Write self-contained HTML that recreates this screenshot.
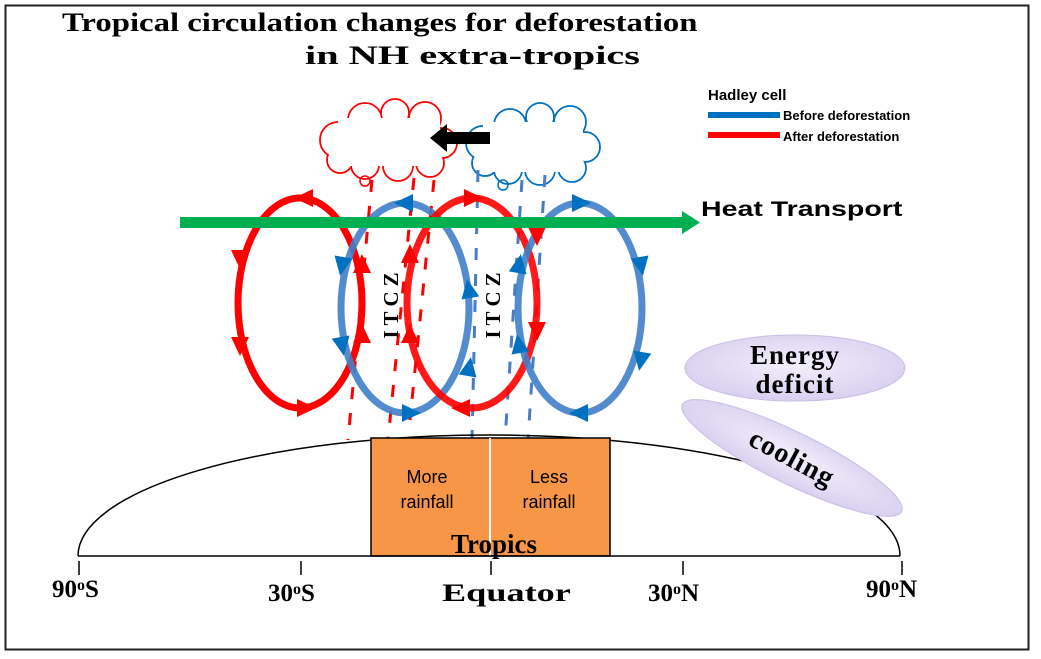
<!DOCTYPE html>
<html><head><meta charset="utf-8"><style>
html,body{margin:0;padding:0;background:#fff;}
svg{display:block;}
.t{font-family:"Liberation Serif",serif;font-weight:bold;}
.s{font-family:"Liberation Sans",sans-serif;}
</style></head><body>
<svg width="1041" height="659" viewBox="0 0 1041 659" xmlns="http://www.w3.org/2000/svg">
<defs>
<radialGradient id="lav" cx="50%" cy="45%" r="60%"><stop offset="0" stop-color="#f3effb"/><stop offset="1" stop-color="#d6cdef"/></radialGradient>
<g id="ah"><polygon points="11,0 -8,-9 -8,9"/></g>
</defs>
<rect x="5.5" y="5.5" width="1023" height="644" fill="#fff" stroke="#222" stroke-width="2"/>
<text class="t" font-size="26" transform="translate(62,31) scale(1.26,1)">Tropical circulation changes for deforestation</text>
<text class="t" font-size="26" transform="translate(305,64) scale(1.55,1)">in NH extra-tropics</text>
<!-- legend -->
<text class="s" x="708" y="100" font-size="15" font-weight="bold">Hadley cell</text>
<rect x="708" y="112" width="72" height="6" fill="#0070c0"/>
<text class="s" x="783" y="120" font-size="13" font-weight="bold">Before deforestation</text>
<rect x="708" y="132" width="72" height="6" fill="#ff0000"/>
<text class="s" x="783" y="141" font-size="13" font-weight="bold">After deforestation</text>
<!-- clouds -->
<g stroke="#ff0000" stroke-width="1.8" fill="#fff">
<circle cx="338" cy="140" r="18"/><circle cx="365" cy="120" r="17"/><circle cx="395" cy="113" r="14"/><circle cx="425" cy="118" r="16"/><circle cx="442" cy="143" r="15"/><circle cx="430" cy="163" r="14"/><circle cx="398" cy="166" r="15"/><circle cx="365" cy="165" r="14"/><circle cx="340" cy="160" r="13"/>
</g>
<g fill="#fff"><circle cx="338" cy="140" r="17"/><circle cx="365" cy="120" r="16"/><circle cx="395" cy="113" r="13"/><circle cx="425" cy="118" r="15"/><circle cx="442" cy="143" r="14"/><circle cx="430" cy="163" r="13"/><circle cx="398" cy="166" r="14"/><circle cx="365" cy="165" r="13"/><circle cx="340" cy="160" r="12"/><rect x="338" y="118" width="102" height="48"/></g>
<circle cx="365" cy="181" r="5" fill="none" stroke="#ff0000" stroke-width="1.5"/>
<g stroke="#0070c0" stroke-width="1.8" fill="#fff">
<circle cx="483" cy="143" r="17"/><circle cx="510" cy="125" r="16"/><circle cx="540" cy="117" r="14"/><circle cx="570" cy="122" r="16"/><circle cx="585" cy="147" r="15"/><circle cx="572" cy="168" r="14"/><circle cx="540" cy="170" r="15"/><circle cx="508" cy="170" r="14"/><circle cx="485" cy="163" r="13"/>
</g>
<g fill="#fff"><circle cx="483" cy="143" r="16"/><circle cx="510" cy="125" r="15"/><circle cx="540" cy="117" r="13"/><circle cx="570" cy="122" r="15"/><circle cx="585" cy="147" r="14"/><circle cx="572" cy="168" r="13"/><circle cx="540" cy="170" r="14"/><circle cx="508" cy="170" r="13"/><circle cx="485" cy="163" r="12"/><rect x="483" y="122" width="100" height="50"/></g>
<circle cx="503" cy="185" r="5" fill="none" stroke="#0070c0" stroke-width="1.5"/>
<polygon points="430,138 447,124 447,132 490,132 490,144 447,144 447,152" fill="#000"/>
<!-- rain -->
<g stroke="#ff0000" stroke-width="3" stroke-dasharray="12,14">
<line x1="372" y1="180" x2="348" y2="440"/><line x1="414" y1="178" x2="388" y2="440"/><line x1="434" y1="180" x2="410" y2="420"/>
</g>
<g stroke="#4a7cc4" stroke-width="3" stroke-dasharray="12,14">
<line x1="478" y1="170" x2="472" y2="440"/><line x1="522" y1="180" x2="505" y2="440"/><line x1="545" y1="175" x2="528" y2="440"/>
</g>
<!-- ellipses -->
<g fill="none" stroke-width="7">
<ellipse cx="300" cy="303" rx="62" ry="105" stroke="#ff0000"/>
<ellipse cx="405" cy="308" rx="64" ry="105" stroke="#3f7fc9" opacity="0.9"/>
<ellipse cx="472" cy="303" rx="65" ry="105" stroke="#ff0000" opacity="0.9"/>
<ellipse cx="580" cy="308" rx="62" ry="105" stroke="#3f7fc9" opacity="0.9"/>
</g>
<g fill="#ff0000">
<use href="#ah" transform="translate(240,258) rotate(90)"/><use href="#ah" transform="translate(240,345) rotate(90)"/>
<use href="#ah" transform="translate(305,408) rotate(0)"/><use href="#ah" transform="translate(362,265) rotate(-90)"/>
<use href="#ah" transform="translate(362,335) rotate(-90)"/><use href="#ah" transform="translate(305,198) rotate(180)"/>
<use href="#ah" transform="translate(472,198) rotate(0)"/><use href="#ah" transform="translate(537,235) rotate(90)"/>
<use href="#ah" transform="translate(537,330) rotate(90)"/><use href="#ah" transform="translate(462,408) rotate(180)"/>
<use href="#ah" transform="translate(410,255) rotate(-90)"/><use href="#ah" transform="translate(410,335) rotate(-90)"/>
</g>
<g fill="#0070c0">
<use href="#ah" transform="translate(405,203) rotate(180)"/><use href="#ah" transform="translate(342,265) rotate(100)"/>
<use href="#ah" transform="translate(342,345) rotate(80)"/><use href="#ah" transform="translate(410,413) rotate(0)"/>
<use href="#ah" transform="translate(469,290) rotate(-100)"/><use href="#ah" transform="translate(469,368) rotate(-80)"/>
<use href="#ah" transform="translate(580,203) rotate(0)"/><use href="#ah" transform="translate(641,265) rotate(80)"/>
<use href="#ah" transform="translate(641,360) rotate(100)"/><use href="#ah" transform="translate(580,413) rotate(180)"/>
<use href="#ah" transform="translate(519,265) rotate(-80)"/><use href="#ah" transform="translate(519,345) rotate(-100)"/>
</g>
<!-- green arrow -->
<rect x="180" y="217" width="505" height="11" fill="#00b050"/>
<polygon points="700,222.5 682,211 682,234" fill="#00b050"/>
<text class="s" font-size="21" font-weight="bold" transform="translate(701,216) scale(1.36,1)">Heat Transport</text>
<!-- ITCZ -->
<text class="t" font-size="21" transform="translate(398,303) rotate(-90)" letter-spacing="5" text-anchor="middle">ITCZ</text>
<text class="t" font-size="21" transform="translate(500,303) rotate(-90)" letter-spacing="5" text-anchor="middle">ITCZ</text>
<!-- ground -->
<path d="M78,556 A411 121 0 0 1 900 556" fill="none" stroke="#000" stroke-width="1.5"/>
<rect x="371" y="438" width="239" height="118" fill="#f79646" stroke="#000" stroke-width="1.5"/>
<line x1="490" y1="438" x2="490" y2="556" stroke="#fff" stroke-width="2"/>
<line x1="78" y1="556" x2="900" y2="556" stroke="#000" stroke-width="1.5"/>
<g class="s" font-size="18" text-anchor="middle">
<text x="427" y="483">More</text>
<text x="427" y="508">rainfall</text>
<text x="549" y="483">Less</text>
<text x="549" y="508">rainfall</text>
</g>
<text class="t" x="494" y="553" font-size="27" text-anchor="middle">Tropics</text>
<g stroke="#000" stroke-width="1.5">
<line x1="79" y1="561" x2="79" y2="575"/><line x1="301" y1="561" x2="301" y2="575"/><line x1="491" y1="561" x2="491" y2="575"/><line x1="683" y1="561" x2="683" y2="575"/><line x1="902" y1="561" x2="902" y2="575"/>
</g>
<g class="t" font-size="25">
<text x="52" y="597">90<tspan font-size="16" dy="-7">o</tspan><tspan dy="7">S</tspan></text>
<text x="268" y="601">30<tspan font-size="16" dy="-7">o</tspan><tspan dy="7">S</tspan></text>
<text transform="translate(442,601) scale(1.45,1)">Equator</text>
<text x="648" y="601">30<tspan font-size="16" dy="-7">o</tspan><tspan dy="7">N</tspan></text>
<text x="866" y="597">90<tspan font-size="16" dy="-7">o</tspan><tspan dy="7">N</tspan></text>
</g>
<!-- energy / cooling -->
<ellipse cx="795" cy="368" rx="110" ry="33" fill="url(#lav)" stroke="#c9bfe6" stroke-width="1"/>
<text class="t" x="795" y="364" font-size="27" text-anchor="middle" letter-spacing="1">Energy</text>
<text class="t" x="795" y="393" font-size="27" text-anchor="middle" letter-spacing="1">deficit</text>
<ellipse cx="792" cy="458" rx="122" ry="26" fill="url(#lav)" stroke="#c9bfe6" stroke-width="1" transform="rotate(26 792 458)"/>
<text class="t" x="792" y="467" font-size="28" text-anchor="middle" letter-spacing="1" transform="rotate(28 792 458)">cooling</text>
</svg>
</body></html>
